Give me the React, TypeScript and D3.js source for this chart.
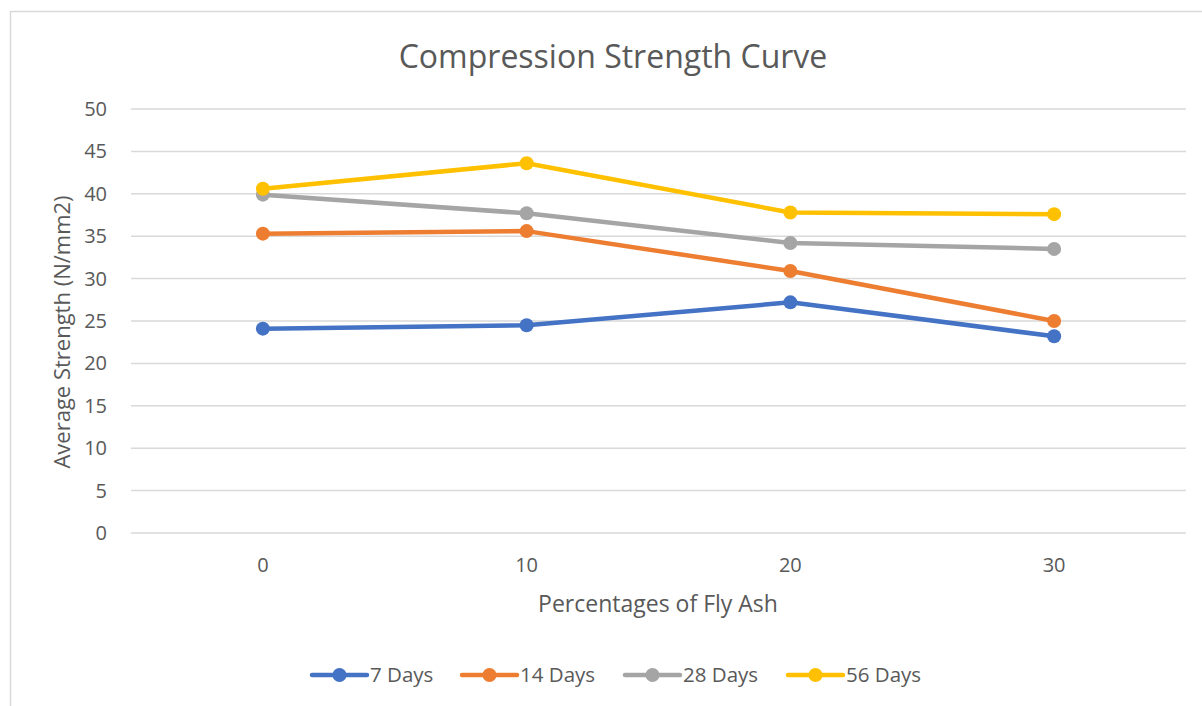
import React from "react";
import * as d3 from "d3";

const categories = ["0", "10", "20", "30"];
const days7 = [24.1, 24.5, 27.2, 23.2];
const days14 = [35.3, 35.6, 30.9, 25.0];
const days28 = [39.9, 37.7, 34.2, 33.5];
const days56 = [40.6, 43.6, 37.8, 37.6];
const yTicks = [0, 5, 10, 15, 20, 25, 30, 35, 40, 45, 50];

const series = [
  { name: "7 Days", values: days7, color: "#4472C4" },
  { name: "14 Days", values: days14, color: "#ED7D31" },
  { name: "28 Days", values: days28, color: "#A5A5A5" },
  { name: "56 Days", values: days56, color: "#FFC000" },
];

const width = 1202;
const height = 706;
const margin = { left: 131, right: 16, top: 109, bottom: 173 };
const font = "'Open Sans', sans-serif";
const textColor = "#595959";

const App = () => {
  const xScale = d3
    .scaleBand()
    .domain(categories)
    .range([margin.left, width - margin.right]);

  const yScale = d3
    .scaleLinear()
    .domain([0, 50])
    .range([height - margin.bottom, margin.top]);

  const line = d3
    .line<number>()
    .x((_, i) => xScale(categories[i])! + xScale.bandwidth() / 2)
    .y((d) => yScale(d));

  const gridLines = yTicks.map((t) => (
    <g key={t}>
      <line
        x1={margin.left}
        x2={width - margin.right}
        y1={yScale(t)}
        y2={yScale(t)}
        stroke="#D9D9D9"
        strokeWidth="1.5"
      />
      <text
        x={margin.left - 24}
        y={yScale(t)}
        dy="0.35em"
        textAnchor="end"
        fontSize="20px"
        fill={textColor}
      >
        {t}
      </text>
    </g>
  ));

  const xLabels = categories.map((c) => (
    <text
      key={c}
      x={xScale(c)! + xScale.bandwidth() / 2}
      y={yScale(0) + 32}
      dy="0.35em"
      textAnchor="middle"
      fontSize="20px"
      fill={textColor}
    >
      {c}
    </text>
  ));

  const lines = series.map((s) => (
    <g key={s.name}>
      <path d={line(s.values)!} fill="none" stroke={s.color} strokeWidth="4.5" strokeLinejoin="round" strokeLinecap="round" />
      {s.values.map((v, i) => (
        <circle
          key={i}
          cx={xScale(categories[i])! + xScale.bandwidth() / 2}
          cy={yScale(v)}
          r="7"
          fill={s.color}
        />
      ))}
    </g>
  ));

  const legendX = [312, 462, 625, 788];
  const legend = series.map((s, i) => (
    <g key={s.name} transform={`translate(${legendX[i]}, 675)`}>
      <line x1={0} x2={55} y1={0} y2={0} stroke={s.color} strokeWidth="4.5" strokeLinecap="round" />
      <circle cx={27.5} cy={0} r="7" fill={s.color} />
      <text x={58} y={0} dy="0.35em" fontSize="20.5px" fill={textColor}>
        {s.name}
      </text>
    </g>
  ));

  return (
    <div style={{ position: "absolute", left: 0, top: 0 }}>
      <svg width={width} height={height} fontFamily={font} style={{ display: "block" }}>
        <rect x={0} y={0} width={width} height={height} fill="#FFF" />
        <path d={`M10.5,${height} V11.5 H${width}`} fill="none" stroke="#D9D9D9" strokeWidth="1.5" />
        <text x={613} y={57} dy="0.35em" textAnchor="middle" fontSize="32px" fill={textColor}>
          Compression Strength Curve
        </text>
        <text
          transform="translate(62, 332) rotate(-90)"
          dy="0.35em"
          textAnchor="middle"
          fontSize="22px"
          fill={textColor}
        >
          Average Strength (N/mm2)
        </text>
        <text x={658} y={604} dy="0.35em" textAnchor="middle" fontSize="23px" fill={textColor}>
          Percentages of Fly Ash
        </text>
        {gridLines}
        {xLabels}
        {lines}
        {legend}
      </svg>
    </div>
  );
};

export default App;
